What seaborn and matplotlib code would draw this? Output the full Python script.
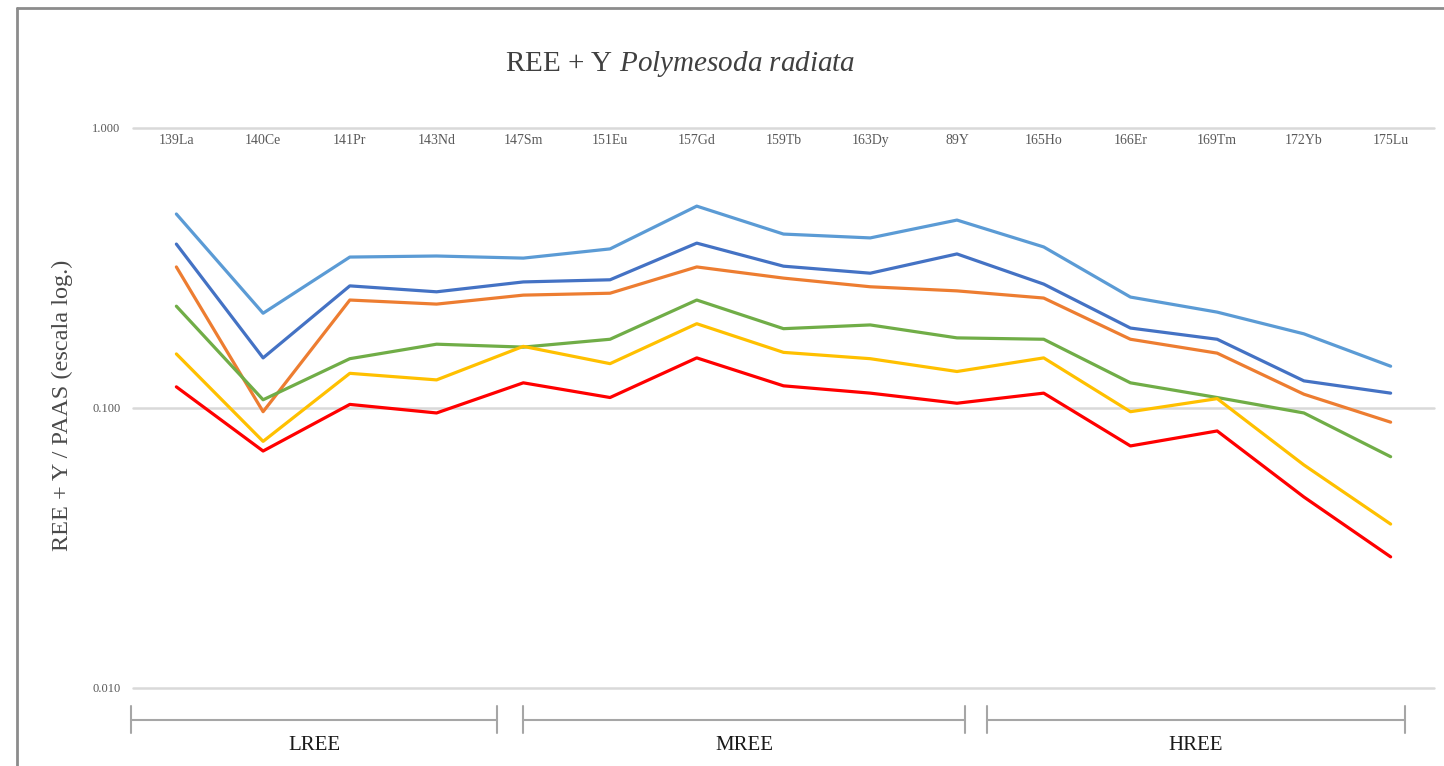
import numpy as np
import pandas as pd
import matplotlib
matplotlib.use("Agg")
import matplotlib.pyplot as plt
from matplotlib.lines import Line2D
import seaborn as sns

# REE + Y normalised to PAAS, one profile per sample
elements = ["139La", "140Ce", "141Pr", "143Nd", "147Sm", "151Eu", "157Gd", "159Tb",
            "163Dy", "89Y", "165Ho", "166Er", "169Tm", "172Yb", "175Lu"]

serie_1 = [0.493, 0.218, 0.346, 0.349, 0.343, 0.370, 0.526, 0.418, 0.405, 0.469, 0.376, 0.249, 0.220, 0.184, 0.141]
serie_2 = [0.385, 0.151, 0.273, 0.260, 0.282, 0.287, 0.388, 0.321, 0.303, 0.355, 0.277, 0.193, 0.176, 0.125, 0.113]
serie_3 = [0.319, 0.097, 0.243, 0.235, 0.253, 0.257, 0.319, 0.291, 0.271, 0.262, 0.247, 0.176, 0.157, 0.112, 0.089]
serie_4 = [0.231, 0.107, 0.150, 0.169, 0.165, 0.176, 0.243, 0.192, 0.198, 0.178, 0.176, 0.123, 0.109, 0.096, 0.067]
serie_5 = [0.156, 0.076, 0.133, 0.126, 0.166, 0.144, 0.200, 0.158, 0.150, 0.135, 0.151, 0.097, 0.108, 0.0626, 0.0385]
serie_6 = [0.119, 0.0702, 0.103, 0.096, 0.123, 0.109, 0.151, 0.120, 0.113, 0.104, 0.113, 0.0732, 0.0828, 0.0481, 0.0294]

series = {"Serie 1": serie_1, "Serie 2": serie_2, "Serie 3": serie_3,
          "Serie 4": serie_4, "Serie 5": serie_5, "Serie 6": serie_6}
colors = ["#5B9BD5", "#4472C4", "#ED7D31", "#70AD47", "#FFC000", "#FF0000"]

groups = ["LREE", "MREE", "HREE"]
y_ticks = [0.01, 0.1, 1.0]
y_ticklabels = ["0.010", "0.100", "1.000"]

rows = []
for name, vals in series.items():
    for i, v in enumerate(vals):
        rows.append({"pos": i, "valor": v, "serie": name})
df = pd.DataFrame(rows)

sns.set_theme(style="white")
plt.rcParams["font.family"] = ["Liberation Serif", "DejaVu Serif"]
plt.rcParams["mathtext.fontset"] = "custom"
plt.rcParams["mathtext.rm"] = "Liberation Serif"
plt.rcParams["mathtext.it"] = "Liberation Serif:italic"

W, H = 1444, 766
fig = plt.figure(figsize=(W / 100, H / 100), dpi=100)
fig.patch.set_facecolor("white")


def fx(px):
    return px / W


def fy(py):
    return 1 - py / H


ax = fig.add_axes([fx(133), fy(688), fx(1434) - fx(133), fy(128) - fy(688)])

sns.lineplot(data=df, x="pos", y="valor", hue="serie", palette=colors,
             linewidth=2.3, legend=False, ax=ax, sort=False)

ax.set_yscale("log")
ax.set_ylim(0.01, 1.0)
ax.set_xlim(-0.5, len(elements) - 0.5)
ax.set_yticks(y_ticks)
ax.set_yticklabels(y_ticklabels)
ax.yaxis.set_minor_locator(matplotlib.ticker.NullLocator())
ax.grid(axis="y", color="#D9D9D9", linewidth=1.8)
ax.grid(axis="x", visible=False)
for gl in ax.get_ygridlines():
    gl.set_clip_on(False)
for s in ax.spines.values():
    s.set_visible(False)

ax.set_xticks(range(len(elements)))
ax.set_xticklabels(elements)
ax.tick_params(axis="x", top=False, bottom=False, labeltop=True, labelbottom=False,
               length=0, pad=-14, labelsize=10, labelcolor="#595959")
ax.tick_params(axis="y", length=0, pad=9, labelsize=9, labelcolor="#595959")
ax.set_xlabel("")
ax.set_ylabel("")

# Vertical axis title
fig.text(fx(62), fy(405), "REE + Y / PAAS (escala log.)", rotation=90,
         ha="center", va="center", fontsize=17.5, color="#4a4a4a")

# Chart title
fig.text(fx(680), fy(64), r"REE + Y $\it{Polymesoda\ radiata}$",
         ha="center", va="center", fontsize=21, color="#404040")

# Group brackets under the plot
spans = [(131, 497), (523, 965), (987, 1405)]
for (x0, x1), label in zip(spans, groups):
    fig.add_artist(Line2D([fx(x0), fx(x1)], [fy(720), fy(720)], color="#A6A6A6", lw=1.5))
    for xe in (x0, x1):
        fig.add_artist(Line2D([fx(xe), fx(xe)], [fy(706), fy(733)], color="#A6A6A6", lw=1.5))
    fig.text(fx((x0 + x1) / 2), fy(745), label, ha="center", va="center",
             fontsize=15, color="#1a1a1a")

# Outer frame
fig.add_artist(Line2D([fx(17), fx(17)], [fy(8), 0], color="#8C8C8C", lw=2))
fig.add_artist(Line2D([fx(17), 1], [fy(8), fy(8)], color="#8C8C8C", lw=2))

fig.savefig("out.png", dpi=100, facecolor="white")
